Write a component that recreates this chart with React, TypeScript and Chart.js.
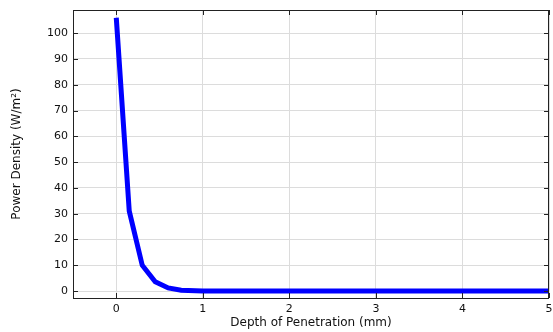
import React, { useEffect, useRef } from "react";
import { Chart, registerables } from "chart.js";

Chart.register(...registerables);

const depthMm = [0, 0.15, 0.3, 0.45, 0.6, 0.75, 1, 2, 3, 4, 5];
const powerDensity = [106, 31, 10, 3.6, 1.2, 0.3, 0, 0, 0, 0, 0];
const xTicks = [0, 1, 2, 3, 4, 5];
const yTicks = [0, 10, 20, 30, 40, 50, 60, 70, 80, 90, 100];

const FONT = "'DejaVu Sans', sans-serif";

const frameAndTicks = {
  id: "frameAndTicks",
  afterDraw(chart: any) {
    const { ctx, chartArea: a, scales } = chart;
    const L = 5;
    ctx.save();
    ctx.strokeStyle = "#222";
    ctx.lineWidth = 1;
    ctx.beginPath();
    for (const v of xTicks) {
      const px = Math.round(scales.x.getPixelForValue(v)) + 0.5;
      ctx.moveTo(px, a.bottom);
      ctx.lineTo(px, a.bottom - L);
      ctx.moveTo(px, a.top);
      ctx.lineTo(px, a.top + L);
    }
    for (const v of yTicks) {
      const py = Math.round(scales.y.getPixelForValue(v)) + 0.5;
      ctx.moveTo(a.left, py);
      ctx.lineTo(a.left + L, py);
      ctx.moveTo(a.right, py);
      ctx.lineTo(a.right - L, py);
    }
    ctx.stroke();
    ctx.strokeRect(Math.round(a.left) + 0.5, Math.round(a.top) + 0.5, Math.round(a.right - a.left) - 1, Math.round(a.bottom - a.top));
    ctx.restore();
  },
};

export default function App() {
  const ref = useRef<HTMLCanvasElement>(null);
  useEffect(() => {
    const chart = new Chart(ref.current as HTMLCanvasElement, {
      type: "line",
      data: {
        datasets: [
          {
            data: depthMm.map((x, i) => ({ x, y: powerDensity[i] })),
            borderColor: "#0000ff",
            backgroundColor: "#0000ff",
            borderWidth: 5,
            pointRadius: 0,
            tension: 0,
          },
        ],
      },
      options: {
        animation: false,
        responsive: false,
        maintainAspectRatio: false,
        layout: { padding: { top: 10, right: 4, left: 0, bottom: 0 } },
        plugins: { legend: { display: false }, tooltip: { enabled: false } },
        scales: {
          x: {
            type: "linear",
            min: -0.5,
            max: 5,
            afterBuildTicks: (s: any) => {
              s.ticks = xTicks.map((v) => ({ value: v }));
            },
            afterFit: (s: any) => {
              s.height = 34;
              s.paddingRight = 0;
              s.paddingLeft = 0;
            },
            grid: { color: "#dcdcdc", drawTicks: false },
            border: { display: false },
            ticks: { color: "#111", font: { family: FONT, size: 11 }, padding: 5, maxRotation: 0 },
            title: {
              display: true,
              text: "Depth of Penetration (mm)",
              color: "#111",
              font: { family: FONT, size: 12 },
              padding: { top: 0, bottom: 2 },
            },
          },
          y: {
            type: "linear",
            min: -2.7,
            max: 109,
            afterBuildTicks: (s: any) => {
              s.ticks = yTicks.map((v) => ({ value: v }));
            },
            afterFit: (s: any) => {
              s.width = 73;
              s.paddingTop = 0;
              s.paddingBottom = 0;
            },
            grid: { color: "#dcdcdc", drawTicks: false },
            border: { display: false },
            ticks: { color: "#111", font: { family: FONT, size: 11 }, padding: 5 },
            title: {
              display: true,
              text: "Power Density (W/m²)",
              color: "#111",
              font: { family: FONT, size: 12 },
              padding: { top: 10, bottom: 0 },
            },
          },
        },
      },
      plugins: [frameAndTicks],
    });
    return () => chart.destroy();
  }, []);
  return (
    <div style={{ position: "absolute", left: 0, top: 0, width: 553, height: 332, background: "#fff" }}>
      <canvas ref={ref} width={553} height={332} style={{ display: "block" }} />
    </div>
  );
}
